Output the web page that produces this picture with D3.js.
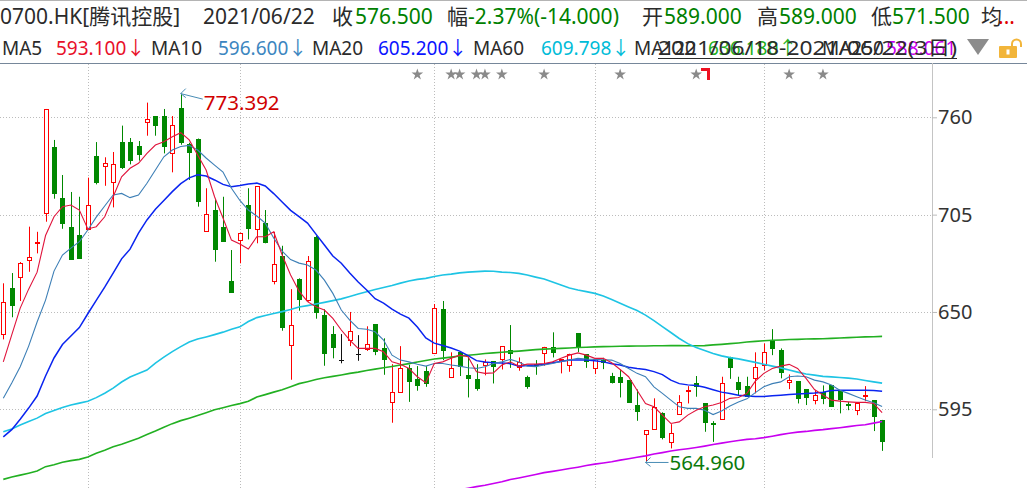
<!DOCTYPE html>
<html><head><meta charset="utf-8">
<script src="https://cdn.jsdelivr.net/npm/d3@7"></script>
<style>
body{margin:0;background:#fff;overflow:hidden}
svg{display:block;font-family:"Noto Sans","Noto Sans CJK SC",sans-serif}
</style></head>
<body><svg id="c" width="1027" height="488"></svg>
<script>
// ---------- DATA ----------
const dates = [
"2021-01-18","2021-01-19","2021-01-20","2021-01-21","2021-01-22","2021-01-25","2021-01-26","2021-01-27","2021-01-28","2021-01-29",
"2021-02-01","2021-02-02","2021-02-03","2021-02-04","2021-02-05","2021-02-08","2021-02-09","2021-02-10","2021-02-11","2021-02-16",
"2021-02-17","2021-02-18","2021-02-19","2021-02-22","2021-02-23","2021-02-24","2021-02-25","2021-02-26",
"2021-03-01","2021-03-02","2021-03-03","2021-03-04","2021-03-05","2021-03-08","2021-03-09","2021-03-10","2021-03-11","2021-03-12",
"2021-03-15","2021-03-16","2021-03-17","2021-03-18","2021-03-19","2021-03-22","2021-03-23","2021-03-24","2021-03-25","2021-03-26",
"2021-03-29","2021-03-30","2021-03-31",
"2021-04-01","2021-04-07","2021-04-08","2021-04-09","2021-04-12","2021-04-13","2021-04-14","2021-04-15","2021-04-16","2021-04-19",
"2021-04-20","2021-04-21","2021-04-22","2021-04-23","2021-04-26","2021-04-27","2021-04-28","2021-04-29","2021-04-30",
"2021-05-03","2021-05-04","2021-05-05","2021-05-06","2021-05-07","2021-05-10","2021-05-11","2021-05-12","2021-05-13","2021-05-14",
"2021-05-17","2021-05-18","2021-05-20","2021-05-21","2021-05-24","2021-05-25","2021-05-26","2021-05-27","2021-05-28","2021-05-31",
"2021-06-01","2021-06-02","2021-06-03","2021-06-04","2021-06-07","2021-06-08","2021-06-09","2021-06-10","2021-06-11","2021-06-15",
"2021-06-16","2021-06-17","2021-06-18","2021-06-21","2021-06-22"];

const open = [637.3,663.5,669.6,679.2,688.8,705.7,743.2,714.6,698.2,693.6,
696.7,738.1,732.3,723.3,746,746,743.8,757.2,760.7,760.7,
739.6,765.3,744.9,747.7,695.6,707.6,698.2,667.5,690.6,710.4,
696.7,700.1,667.5,681.6,631.1,668.6,656.7,692.5,648.2,637.3,
622.6,633.9,626,629.2,643,629.4,598.9,604.9,618.4,611.9,
616.6,626.6,651.5,613.2,627.2,614.3,612.1,619.8,622.2,623.5,
628.5,618.7,613.4,620.5,626.6,630.3,622.6,620,637.9,626.2,
618.1,622.8,613.8,613.4,611.5,597.4,581,583.6,592.8,576.3,
592.1,605.3,609.6,598.3,587,589.8,624.7,610.2,608.1,612.5,
620,634.1,628.5,610.5,610.9,606.2,600.2,604.9,608.5,605.3,
597.8,594.4,602.4,600.2,589];
const high = [666.2,672,678.2,698.2,695.3,764.7,747.2,727.4,717.8,715.1,
725.9,746,737.4,740.4,755.3,748.3,746.6,768.3,760.7,764.7,
760.7,773.392,745.6,748,719.9,713.6,715.1,685,694.8,719.9,
721,707.6,695.3,687.4,662.9,669,681.6,693.1,651.5,642,
637.5,650,636.9,641.9,643,635.1,620.5,630.7,620.2,619.4,
619.4,654.5,656.2,627.2,627.2,624.7,620.5,623.2,622.2,630.7,
642.6,624.3,614,622.8,630.3,638.5,623.4,626.4,638,626.2,
623.4,624.1,615.6,617.5,611.5,606.2,583.1,601.2,593.3,586.6,
603,608.1,613.8,598.3,588.3,613.4,624.7,613.4,613.4,627.2,
632.2,640.3,629.4,614.7,611,606.2,605.8,608.5,608.5,605.3,
599.2,598.7,608.1,600.2,589];
const low = [634.5,647,656.2,672.7,683.1,701,714,697,679.5,680.1,
696.2,722.1,721.3,709.1,730.8,733.4,735.5,749.6,749.6,739.6,
728.9,744.5,724.6,709.5,695.6,678.4,689.7,660.8,677.5,691,
688.8,688.8,665.6,639.4,611.7,650.7,655.8,646.2,619.6,623.8,
621,630.7,622.4,628,625.6,614.5,587.4,604.3,599.2,605.5,
607.7,626.6,622.8,613.2,613.8,601.7,605.5,614.2,609.6,617.5,
618.4,616.8,606.6,614.5,619.6,624.3,615.3,616.2,627.3,618.4,
614.9,617.7,609.6,601.7,598.7,588.5,564.96,583.6,578,572.9,
592.1,598.3,602.1,582.3,576.6,589.8,612.2,603,602.1,604,
617.1,625.6,612.5,606.4,598.3,597.4,597.8,597.9,596.4,592.7,
594.5,591.7,599.6,582.7,571.5];
const close = [655.4,653.5,677.5,680.9,689.7,764.7,716.6,699.9,679.5,680.1,
710.3,723,734,733.4,731.5,735.1,738.7,758.9,755.1,743.4,
755.5,745.6,739.6,712,705.2,685,689.7,660.8,694.8,696.7,
721,688.8,676.9,641.1,642.4,656.7,678.6,649.2,626.4,629.4,
622.6,639.2,626,631.7,627.2,622.6,604.5,618.4,610.5,608.3,
609.2,652,628.1,618.1,618.9,612.2,606.6,621.7,618.7,630.7,
626.2,621.8,607.7,619.4,630.3,626.9,623.4,626,630,621.8,
623.4,620.9,609.6,609.6,598.7,593.6,583.1,596.4,578.9,581.4,
598.9,605.8,607.7,587.4,586.1,610,618.4,605.8,602.1,619,
627.5,628.9,615.6,611.5,600.9,601.5,602.9,600.6,596.4,600.2,
597,598.7,603,590.5,576.5];

const ma5 = [621.8,637.1,652.2,662.9,672.5,693.2,703.8,709.5,710.4,707.6,
696.9,698.2,703.8,715.1,726.4,731.2,734,739.6,744.3,746.2,
749,751.3,747.2,738.7,730.2,715.1,703.1,690.6,688.4,685.6,
692.5,692.5,695.3,682.2,670.9,661.8,655.8,652.9,651.1,646.4,
639.8,634.1,629.4,629.4,629.4,627.5,621.8,620.5,618.1,613.4,
610,620.9,621.8,623.8,625.6,624.7,616.2,615.3,615.6,620,
621.8,619.4,620.5,620.5,620.9,621.8,623.8,625.6,626.9,625.6,
623.8,623.8,621.3,617.5,613.4,605.8,598.3,596.4,591.7,587,
587.9,591.7,594.5,596.4,597.4,598.8,601.2,601.7,604,610.9,
615.3,618.1,619.4,620.4,618.1,612.5,606.2,603,600.2,599.6,
599.2,598.9,598.9,598.3,593.1];
const ma10 = [601.2,609.8,619,630.7,644.3,656.7,673.1,682.2,686.1,689.7,
696.3,703.6,709.9,716.1,717,714.6,716.1,722.7,730.2,737.7,
741.5,743.5,744.1,741.5,737,733,729.1,719.9,713,707.6,
704.2,700.2,691.8,684.4,679.6,677.6,676.5,673.7,668,660.5,
651.1,645.4,640.7,640.2,638.8,634.1,625.6,622.8,621.8,620.5,
619.4,620.9,620.9,620,619.4,618.5,618.1,619,620.9,621.8,
623.2,621.7,619.4,619.1,620,620.9,622,622.8,623.8,623.4,
623.2,623,622.8,620.9,618.1,615.3,613.4,607.7,604,600.2,
596.4,595.5,595.5,594.5,592,594,596.9,599.1,600.9,604.4,
607.7,609.5,610.5,613.4,613.8,613.4,611.5,610.5,608.7,605.8,
604,602.1,600.2,598.7,596.6];
const ma20 = [579.4,583.5,589.4,595.7,602.5,613.8,624,631.6,636.4,641.2,
649,656.5,664,672,680,685.5,694.5,702,708,713,
718,722.5,725.8,727.5,726.8,724.6,722.1,720.8,721.4,722.3,
722.8,721.2,716.9,712.1,707.4,703.9,700.2,694,687.8,681.6,
677.5,672,666.9,662.4,657.5,655,651.6,648.8,646.5,641.5,
635.3,632.4,631,629.6,627.9,625.3,622.5,621.7,621.3,621.1,
620.8,619.4,619.7,620,620.5,621.3,622,622.8,622.8,622.8,
622.4,621.8,620.8,620,618.8,618,617.5,616.3,614.6,611.5,
609.5,608.8,608.5,607.5,606.1,604.7,603.9,602.9,602.5,602.2,
602.3,602.6,603,603.3,603.6,603.9,604.2,604.7,605.6,605.8,
605.8,605.8,605.7,605.6,605.2];
const ma60 = [582.3,583.9,586.1,588.1,590,592.6,594.3,596,597.4,598.5,
599.6,601.6,604.1,607,610.4,613.2,615.2,617.2,621.1,624.5,
627.6,630.4,633,634.7,635.9,637.2,638.6,640.2,641.6,644.6,
646.8,648,649.1,650.2,651.4,652.8,653.6,654.5,655.4,656.4,
657.4,658.7,660.1,661.4,662.7,663.8,664.9,666.3,667.5,668.4,
669,670,670.9,671.4,672.1,672.5,672.8,673.1,673,672.5,
672.3,671.8,670.9,669.7,668.6,666.9,665.2,663.5,662.4,661.5,
660.5,659,657,654.9,652.8,650.8,648.2,645.1,641.7,638.4,
635,632.1,629.9,628.2,626.5,625.2,624.2,623.5,622.5,621.5,
620.5,619.4,618.4,617.2,616,614.9,614.3,613.6,613.3,613,
612.6,612.1,611.3,610.5,609.798];
const ma120 = [555.4,556.7,557.8,558.9,560.1,562.6,563.7,565.1,566,566.7,
568.1,570.2,571.9,573.8,575.3,577,578.7,580.7,582.7,584.9,
586.9,588.6,590,591.5,593.1,594.7,595.9,597.1,598.2,599.5,
601.9,603.3,604.7,606.1,607.8,609.5,610.6,611.8,612.8,613.6,
614.4,615.3,616,616.9,617.7,618.5,619.2,620,620.8,621.7,
622.6,623.4,623.9,624.5,625.1,625.5,626,626.5,626.9,627.2,
627.6,627.9,628.3,628.7,629,629.2,629.4,629.6,629.9,630.1,
630.3,630.4,630.5,630.6,630.7,630.8,630.8,630.9,630.9,631,
631,630.9,630.9,631,631.4,631.7,632.1,632.5,633,633.4,
633.7,634,634.2,634.4,634.5,634.7,634.8,634.9,635.1,635.3,
635.5,635.7,635.9,636,636.18];
const ma250 = [null,null,null,null,null,null,null,null,null,null,
null,null,null,null,null,null,null,null,null,null,
null,null,null,null,null,null,null,null,null,null,
null,null,null,null,null,null,null,null,null,null,
null,null,null,null,null,null,null,null,null,null,
545.6,546.6,547.6,548.5,549.5,550.4,551.3,552.1,553.1,554.1,
555.3,556.2,557.2,558.2,559.2,559.9,560.7,561.5,562.3,563.2,
564,564.7,565.4,566.3,567.1,567.9,568.7,569.7,570.5,571.4,
572.1,572.7,573.4,574.2,575.1,575.9,576.7,577.4,578,578.4,
579,579.8,580.7,581.5,582.1,582.5,583.1,583.5,584.1,584.6,
585.2,585.8,586.3,587.2,588.061];

const yTicks = [595, 650, 705, 760];
const starDates = ["2021-03-30","2021-04-08","2021-04-09","2021-04-13","2021-04-14","2021-04-16",
                   "2021-04-23","2021-05-06","2021-05-20","2021-06-04","2021-06-10"];
const flagDate = "2021-05-21";
const stockName = "0700.HK[腾讯控股]";
const rangeText = "2021/06/18-2021/06/22(3日)";

// ---------- SCALES ----------
const svg = d3.select("#c");
const W = 1027, H = 488, plotRight = 932, plotTop = 63;
const x = d3.scalePoint().domain(dates).range([3.3, 882.1]);
const y = d3.scaleLinear().domain([595, 760]).range([409.3, 117.3]);

svg.append("rect").attr("width", W).attr("height", H).attr("fill", "#fff");
svg.append("line").attr("x1",0).attr("x2",W).attr("y1",0.5).attr("y2",0.5).attr("stroke","#b4b4b4");
svg.append("line").attr("x1",0).attr("x2",W).attr("y1",plotTop+0.5).attr("y2",plotTop+0.5).attr("stroke","#76879a");

svg.append("defs").append("clipPath").attr("id","clip")
  .append("rect").attr("x",0).attr("y",plotTop+1).attr("width",plotRight).attr("height",H-plotTop-1);

// gridlines
const grid = svg.append("g");
yTicks.forEach(t => {
  const yy = Math.round(y(t)) + 0.5;
  grid.append("line").attr("x1",0).attr("x2",plotRight).attr("y1",yy).attr("y2",yy)
    .attr("stroke","#bcbcbc").attr("stroke-dasharray","1,2");
});
const monthStarts = dates.filter((d,i) => i > 0 && d.slice(5,7) !== dates[i-1].slice(5,7));
monthStarts.forEach(d => {
  const xx = Math.round(x(d)) + 0.5;
  grid.append("line").attr("x1",xx).attr("x2",xx).attr("y1",plotTop+1).attr("y2",H)
    .attr("stroke","#bcbcbc").attr("stroke-dasharray","1,2");
});

// right axis
svg.append("line").attr("x1",plotRight+0.5).attr("x2",plotRight+0.5).attr("y1",plotTop).attr("y2",458)
  .attr("stroke","#c4c4c4");
const ax = svg.append("g").attr("transform",`translate(${plotRight},0)`)
  .call(d3.axisRight(y).tickValues(yTicks).tickSize(5).tickPadding(1).tickFormat(d3.format("d")));
ax.select(".domain").remove();
ax.selectAll(".tick line").attr("stroke","#bbb");
ax.selectAll(".tick text").attr("font-size",20).attr("fill","#333")
  .attr("font-family",'"Noto Sans",sans-serif');

// ---------- CANDLES ----------
const plot = svg.append("g").attr("clip-path","url(#clip)");
const RED = "#f00", GREEN = "#008800";
dates.forEach((d,i) => {
  const o = open[i], c = close[i], h = high[i], l = low[i];
  const cx = Math.round(x(d)), px = cx + 0.5;
  const yo = y(o), yc = y(c), yh = y(h), yl = y(l);
  const top = Math.round(Math.min(yo,yc)), bot = Math.round(Math.max(yo,yc));
  const g = plot.append("g");
  if (c > o) {
    if (yh < top) g.append("line").attr("x1",px).attr("x2",px).attr("y1",yh).attr("y2",top).attr("stroke",RED);
    if (yl > bot) g.append("line").attr("x1",px).attr("x2",px).attr("y1",bot).attr("y2",yl).attr("stroke",RED);
    g.append("rect").attr("x",cx-1.5).attr("y",top+0.5).attr("width",4).attr("height",Math.max(bot-top,1))
      .attr("fill","#fff").attr("stroke",RED);
  } else if (c < o) {
    g.append("line").attr("x1",px).attr("x2",px).attr("y1",yh).attr("y2",yl).attr("stroke",GREEN);
    g.append("rect").attr("x",cx-2).attr("y",top).attr("width",5).attr("height",Math.max(bot-top,1.5))
      .attr("fill",GREEN);
  } else {
    g.append("line").attr("x1",px).attr("x2",px).attr("y1",yh).attr("y2",yl).attr("stroke","#111");
    g.append("line").attr("x1",cx-2).attr("x2",cx+3).attr("y1",Math.round(yo)+0.5).attr("y2",Math.round(yo)+0.5).attr("stroke","#111");
  }
});

// ---------- MOVING AVERAGES ----------
const mas = [
  {v: ma250, c: "#c800f0", w: 1.6},
  {v: ma120, c: "#22b022", w: 1.6},
  {v: ma60,  c: "#1ec4e4", w: 1.6},
  {v: ma20,  c: "#0a24f0", w: 1.5},
  {v: ma10,  c: "#3d7fb6", w: 1.1},
  {v: ma5,   c: "#e0143c", w: 1.1}
];
mas.forEach(m => {
  const line = d3.line().defined(v => v != null).x((v,i) => x(dates[i])).y(v => y(v));
  plot.append("path").attr("d", line(m.v)).attr("fill","none").attr("stroke",m.c).attr("stroke-width",m.w);
});

// ---------- ANNOTATIONS ----------
const iMax = high.indexOf(d3.max(high)), iMin = low.indexOf(d3.min(low));
const arrowCol = "#4a8db5";
function arrow(tx, ty, len, dy) {
  const g = svg.append("g").attr("stroke",arrowCol).attr("stroke-width",1).attr("fill","none");
  g.append("line").attr("x1",tx).attr("y1",ty).attr("x2",tx+len).attr("y2",ty+dy);
  g.append("line").attr("x1",tx).attr("y1",ty).attr("x2",tx+5).attr("y2",ty-5);
  g.append("line").attr("x1",tx).attr("y1",ty).attr("x2",tx+5).attr("y2",ty+4);
}
const mxX = x(dates[iMax]), mxY = y(high[iMax]);
arrow(mxX, mxY, 22, 5.5);
svg.append("text").attr("x",mxX+23).attr("y",mxY+16).attr("font-size",20.5).attr("fill","#d00000")
  .text(high[iMax].toFixed(3));
const mnX = x(dates[iMin]), mnY = y(low[iMin]);
arrow(mnX, mnY, 23, 0);
svg.append("text").attr("x",mnX+24).attr("y",mnY+8).attr("font-size",20.5).attr("fill","#0b7a0b")
  .text(low[iMin].toFixed(3));

// stars / flag
const starSym = d3.symbol().type(d3.symbolStar).size(42);
starDates.forEach(d => {
  svg.append("path").attr("d", starSym()).attr("transform",`translate(${x(d)},74.5)`)
    .attr("fill","#8a8a8a");
});
{
  const fx = Math.round(x(flagDate));
  svg.append("path").attr("d",`M${fx-4},68h9v12h-3v-9h-6z`).attr("fill","#ee1122");
}

// ---------- HEADER ----------
const n = dates.length - 1;
const dark = "#2b2b2b", hg = "#008000";
const chg = close[n] - close[n-1];
const pct = chg / close[n-1] * 100;
const row1 = [
  {t: stockName, x: 0, c: dark},
  {t: dates[n].replace(/-/g,"/"), x: 203, c: dark},
  {t: "收", x: 332, c: dark}, {t: close[n].toFixed(3), x: 355, c: hg},
  {t: "幅", x: 447, c: dark}, {t: `${pct.toFixed(2)}%(${chg.toFixed(3)})`, x: 468, c: hg},
  {t: "开", x: 642, c: dark}, {t: open[n].toFixed(3), x: 664, c: hg},
  {t: "高", x: 757, c: dark}, {t: high[n].toFixed(3), x: 779, c: hg},
  {t: "低", x: 871, c: dark}, {t: low[n].toFixed(3), x: 892, c: hg},
  {t: "均", x: 981, c: dark}, {t: "...", x: 998, c: "#e00000"}
];
row1.forEach(s => svg.append("text").attr("x",s.x).attr("y",24).attr("font-size",21).attr("fill",s.c).text(s.t));

const row2 = [
  {t: "MA5", x: 2, c: dark}, {t: ma5[n].toFixed(3) + "↓", x: 56, c: "#e8102a"},
  {t: "MA10", x: 151, c: dark}, {t: ma10[n].toFixed(3) + "↓", x: 218, c: "#3c86c0"},
  {t: "MA20", x: 312, c: dark}, {t: ma20[n].toFixed(3) + "↓", x: 378, c: "#0a14ff"},
  {t: "MA60", x: 473, c: dark}, {t: ma60[n].toFixed(3) + "↓", x: 541, c: "#00bcd8"},
  {t: "MA120", x: 634, c: dark}, {t: ma120[n].toFixed(3) + "↑", x: 708, c: "#22b022"},
  {t: "MA250", x: 822, c: dark}, {t: ma250[n].toFixed(3), x: 886, c: "#cc00ee"}
];
row2.forEach(s => svg.append("text").attr("x",s.x).attr("y",55).attr("font-size",19).attr("fill",s.c).text(s.t));
svg.append("text").attr("x",658).attr("y",55).attr("font-size",19).attr("fill",dark)
  .attr("textLength",299).attr("lengthAdjust","spacingAndGlyphs").text(rangeText);
svg.append("line").attr("x1",658).attr("x2",957).attr("y1",58.5).attr("y2",58.5).attr("stroke",dark);

// triangle & lock
svg.append("polygon").attr("points","967,39 989,39 978,55").attr("fill","#8c8c8c");
svg.append("rect").attr("x",999).attr("y",46).attr("width",18).attr("height",12).attr("rx",1).attr("fill","#f2b53a");
svg.append("path").attr("d","M1012,46V44A4.5,4.5 0 0 1 1021,44V47").attr("fill","none").attr("stroke","#f2b53a").attr("stroke-width",2);
svg.append("rect").attr("x",1006.5).attr("y",49.5).attr("width",3).attr("height",5).attr("fill","#fff");
</script></body></html>
